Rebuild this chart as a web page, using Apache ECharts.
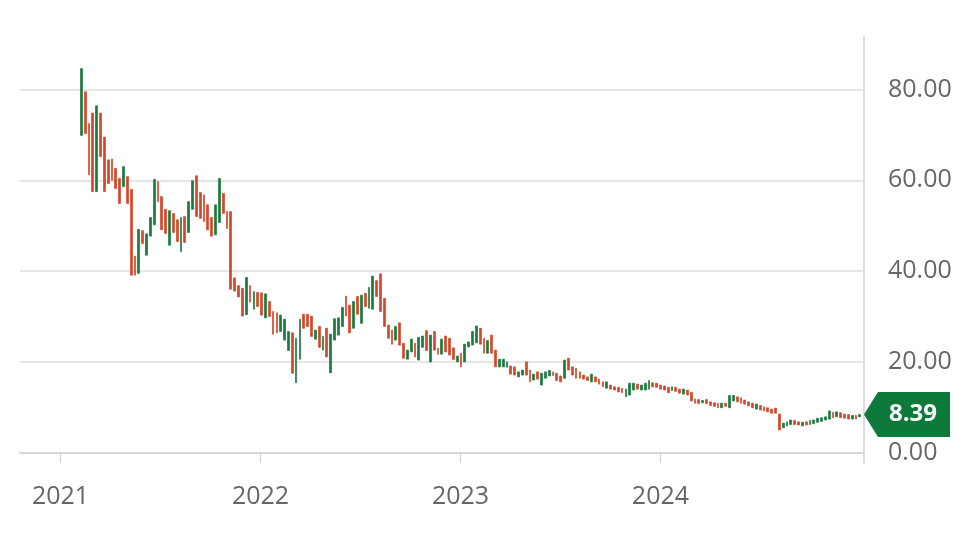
<!DOCTYPE html>
<html>
<head>
<meta charset="utf-8">
<script src="https://cdn.jsdelivr.net/npm/echarts@6/dist/echarts.min.js"></script>
<style>
html,body{margin:0;padding:0;background:#fff;}
#chart{width:968px;height:558px;}
</style>
</head>
<body>
<div id="chart"></div>
<script>
// Weekly candles, first week starting 2021-02-08
const firstWeek = '2021-02-08';
const opens = [
69.9,79.5,72.5,74.8,57.5,74.8,69.5,64.5,64.7,62.6,
60.4,58.6,60.8,58,43.3,39.5,48.9,43.5,47.7,50.2,
59.7,56.4,53.6,45.7,52.7,51.3,44.3,52,48.5,53.6,
61,57.3,56.8,54.6,51.8,48,50.7,57.1,53.1,53.1,
38.5,36.8,36.2,30.4,36.8,31.6,35.3,35.2,29.7,33.3,
31.1,30.8,26.7,24.8,22.5,26.4,15.4,20.6,30.5,30.5,
30.1,25,27.8,22.6,27.4,17.6,24.8,25.9,27.8,34.5,
32.5,27.4,34.4,28.5,35.1,31.8,31.6,37.9,39.4,34,
28.1,27,24.8,28.6,24.1,20.6,22.2,24.1,20.4,23.2,
26.9,20,26.7,23,21.7,25.7,25.2,23.1,20,21.9,
20,23.3,23.7,24.2,27.4,25.2,21.9,25.9,22.6,18.9,
18.9,18.8,19.1,18.9,16.7,17.1,20,18.2,16,17.8,
14.9,16.4,16.9,17.8,17.5,16.9,16.4,20.8,18.9,18.6,
17.8,17.1,16.7,15.6,16.7,16.2,15.6,14.2,14.9,14.5,
14.4,14.2,12.3,12.7,13.8,15.1,13.8,13.8,14,15.4,
15.3,14.9,14.7,14.4,13.7,14.4,14,12.9,13.8,13.3,
11.8,11.7,11,11.7,11.2,11,10.9,9.9,10.9,9.9,
11.4,12.3,12.1,11.6,11.2,10.9,9.6,10.4,10.1,9.9,
9.6,9.8,8.5,5.5,5.9,6.2,7.1,6.8,5.9,6.8,
6.2,6.4,6.7,6.9,7.2,7.4,8.9,7.9,8.8,8.5,
8.4,7.4,8.2,7.9];
const closes = [
84.6,70.3,61.2,57.5,76.4,65.2,57.5,59.3,60,58.2,
54.9,63,54.9,39.1,39.1,49.2,46.1,48.2,51.8,60.2,
55.3,49.1,48.3,53.3,48.5,46.5,51.8,46.3,55.3,59.9,
52,51.6,50.9,49.1,47.7,54.6,60.4,52.7,49.4,36,
35.6,34.3,30.1,38.6,33.2,35.5,32.2,30.3,35,30,
26.1,26.4,30.3,29.4,26.7,17.5,25.2,29.4,27.4,27.8,
25.6,27,23.2,25.6,21.1,26.1,29.5,29.7,32,30.1,
26.4,33.3,30.5,34.7,32.2,36.4,38.9,34.4,31.1,27.8,
25.2,23.9,27.8,23.7,20.8,22.6,25,21.1,25.4,25.7,
22.5,25.9,22.6,21.7,25,22.2,21.5,20.5,21.3,18.9,
23.9,24.4,26.7,27.9,23.9,21.9,24.7,21.9,18.9,20.6,
20.6,20,17.3,17.1,17.8,18.2,17.1,15.6,17.3,16.2,
17.5,17.8,18.1,17,15.9,15.6,20.4,18.2,17.1,16.4,
16.4,16.2,15.9,17.3,15.6,15.1,14.5,15.6,14,13.8,
13.4,13.2,14,15.3,15.3,14,14.9,15.3,15.9,14.5,
14.4,14,13.8,13.2,14.5,13.5,13.1,14,12.7,11.4,
10.9,10.8,11.5,10.8,10.4,10.2,9.9,10.9,10.2,12.6,
12.6,11.2,10.9,10.7,10.3,9.9,10.7,9.4,9.2,9,
8.7,8.7,5,6.5,6.8,7.2,6.2,6.1,6.7,6.1,
7.1,7.2,7.6,7.7,7.9,9.2,7.7,9,7.7,7.6,
7.4,8.2,7.4,8.39];
const yearTicks = [2021, 2022, 2023, 2024];
const priceTicks = [0, 20, 40, 60, 80];

const DAY = 86400000;
const start = Date.parse(firstWeek + 'T00:00:00Z');
const candles = opens.map((o, i) => {
  const c = closes[i];
  return [start + i * 7 * DAY, o, c, Math.min(o, c), Math.max(o, c)];
});
const jan2021 = Date.UTC(2021, 0, 1);
const xMin = jan2021 - 73.9 * DAY;
const xMax = jan2021 + 1466.5 * DAY;
const yearValues = yearTicks.map(y => Date.UTC(y, 0, 1));
const lastClose = closes[closes.length - 1];

const GREEN = '#1a7a3e', RED = '#d4472a', TAG = '#0d7a3b';
const font = 'Open Sans';

const chart = echarts.init(document.getElementById('chart'), null, {renderer: 'canvas'});
chart.setOption({
  animation: false,
  backgroundColor: '#ffffff',
  grid: {left: 20, right: 104, top: 37, bottom: 95},
  xAxis: {
    type: 'value', min: xMin, max: xMax,
    axisLine: {show: true, lineStyle: {color: '#d6d6d6', width: 2}},
    axisTick: {show: true, length: 10, lineStyle: {color: '#cfcfcf', width: 1}, customValues: yearValues},
    axisLabel: {customValues: yearValues, formatter: v => String(new Date(v).getUTCFullYear()),
      color: '#666', fontSize: 25, fontFamily: font, margin: 21},
    splitLine: {show: false}
  },
  yAxis: {
    type: 'value', position: 'right', min: -2.27, max: 91.56,
    axisLine: {show: true, lineStyle: {color: '#dddddd', width: 2}},
    axisTick: {show: false, customValues: priceTicks},
    axisLabel: {customValues: priceTicks, formatter: v => v.toFixed(2),
      color: '#666', fontSize: 25, fontFamily: font, margin: 24},
    splitLine: {show: true, lineStyle: {color: '#dedede', width: 1.5}}
  },
  series: [{
    type: 'candlestick',
    data: candles,
    barWidth: 2.3,
    itemStyle: {color: GREEN, color0: RED, borderColor: GREEN, borderColor0: RED, borderWidth: 0.7},
    markPoint: {
      symbol: 'path://M0,22 L14,0 L86,0 L86,44 L14,44 Z',
      symbolSize: [86, 45],
      symbolOffset: [43, 0],
      itemStyle: {color: TAG},
      label: {show: true, formatter: lastClose.toFixed(2), color: '#fff', fontSize: 24,
        fontWeight: 'bold', fontFamily: font, offset: [6, 0]},
      data: [{coord: [xMax, lastClose]}]
    }
  }]
});
</script>
</body>
</html>
